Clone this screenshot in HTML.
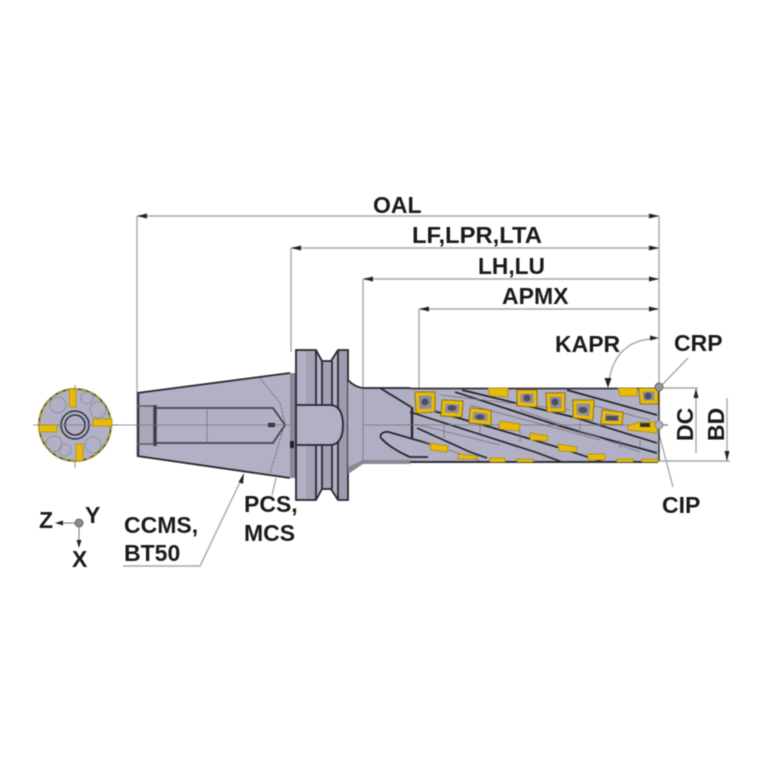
<!DOCTYPE html>
<html><head><meta charset="utf-8"><style>
html,body{margin:0;padding:0;background:#fff}
svg{display:block;filter:blur(.5px)}
text{font-family:"Liberation Sans",sans-serif;font-weight:bold;fill:#1a1a1a;font-size:23px}
.d{stroke:#a8a8a8;stroke-width:1.4;fill:none}
.k{stroke:#26262e;stroke-width:1.8;fill:none}
.h{stroke:#22222a;stroke-width:1.7;fill:none}
.t{stroke:#74747e;stroke-width:.8;fill:none}
.y{fill:#e8bb0a;stroke:#a88a10;stroke-width:.8}
</style></head><body>
<svg width="767" height="767" viewBox="0 0 767 767" xmlns="http://www.w3.org/2000/svg">
<defs>
<g id="ins">
<path d="M417 394H433V410L418 411Z"/>
<path d="M444 402L461 403L460 415L443 414Z"/>
<path d="M472 410L489 412L489 423L471 421Z"/>
<path d="M519 392H535V405L519 404Z"/>
<path d="M548 395H563V410L549 410Z"/>
<path d="M575 402H592L591 418L575 416Z"/>
<path d="M604 412L621 414L620 423L603 422Z"/>
<path d="M641 390H656V402L642 402Z"/>
</g>
</defs>

<!-- dimension lines -->
<path class="d" d="M137 216V393M137 216H659M291 248V352M291 248H659M363 279V388M363 279H659M419 309V390M419 309H659M659 216V388"/>
<path fill="#222" d="M137 216l10-2.500v5zM659 216l-10-2.500v5zM291 248l10-2.500v5zM659 248l-10-2.500v5zM363 279l10-2.500v5zM659 279l-10-2.500v5zM419 309l10-2.500v5zM659 309l-10-2.500v5zM659 338l-9-2.500v5z"/>
<path class="d" d="M650 339C630 341 614 352 609 380"/>
<path fill="#222" d="M608 388l-3.500-10h7z"/>
<path class="d" d="M659 388H698M659 461H730M696 397V453M727 398V461M661 425H668"/>
<path fill="#222" d="M696 388l-2.500 10h5zM727 461l-2.500-10h5z"/>
<path class="d" d="M661 386L688 358M658 430L673 487M123 566H200L242 478M276 478L272 495"/>
<path fill="#222" d="M244 473l-1 11-4.500-2zM658 442l-2 9h4z"/>

<!-- taper -->
<path d="M137 393L290 373V478L137 456Z" fill="#b2b0c4"/>
<rect x="137" y="405" width="16" height="40" fill="#a9a7ba"/>
<path d="M137 393L290 373M137 456L290 478" class="k"/>
<path d="M138 393V456" stroke="#33333c" stroke-width="2.500"/>
<path d="M137 406H153M137 444H153" stroke="#606069" stroke-width="1.500"/>
<path d="M155 405V446" stroke="#3e3e48" stroke-width="3.500" fill="none"/>
<path d="M156 408H273L285 425L273 443H156" stroke="#44444e" stroke-width="1.800" fill="none"/>
<path class="t" d="M207 408V443"/>
<path d="M260 378L280 403L285 423L277 450L270 473" fill="none" stroke="#606068" stroke-width=".7" stroke-dasharray="3 1"/>
<rect x="290" y="373" width="6" height="105" fill="#8a8898"/>
<path d="M268 423h7v4h-7zM290 441h4v7h-4z" fill="#222"/>

<!-- flange -->
<path d="M296 350H316L322 361H331L338 350H348V500H338L331 489H322L316 500H296Z" fill="#b2b0c4"/>
<path d="M306 351H316V499H306ZM322 361H331V489H322Z" fill="#a3a1b4"/>
<path d="M339 351H347V499H339Z" fill="#9d9bae"/>
<path class="k" d="M296 350H316L322 361H331L338 350H348V500H338L331 489H322L316 500H296Z"/>
<path class="h" d="M316 351V499M322 361V489M332 361V489M338 351V499"/>
<path d="M297 405H330C340 405 343 415 343 425C343 435 340 445 330 445H297Z" fill="#b2b0c4"/>
<path class="k" d="M297 405H330C340 405 343 415 343 425C343 435 340 445 330 445H297"/>

<!-- neck -->
<path d="M348 380C352 384 356 387 363 388H412V462H363C356 463 352 467 348 472Z" fill="#b0aec2"/>
<path d="M348 467L363 460H410V464H363L348 474Z" fill="#8a8894"/>
<path class="h" d="M348 380C352 384 356 387 363 388H410"/>
<path class="t" d="M363 388V462"/>

<!-- cutter body -->
<path d="M410 388H659V461H410Z" fill="#b2b0c4"/>
<path class="k" d="M380 388L411 407"/>
<path d="M412 407V440" stroke="#26262e" stroke-width="2.500"/>
<path class="h" d="M567 390L657 415M462 390L573 417L657 443M455 392L563 427L657 453M410 412L535 452L562 462M417 428L470 452L487 458M430 410L490 427L557 447L603 462"/>
<path d="M386 432C381 432 379 435 381 438C386 444 398 452 410 457H430C434 454 436 450 437 447L392 433Z" fill="#b2b0c4"/>
<path class="k" d="M437 446L392 433C384 430 379 434 381 438C386 444 398 452 410 457H428"/>
<path class="t" d="M415 424L500 445M470 405L600 440M440 395L570 410M520 410L640 452M420 440L480 461M572 400L650 420"/>
<path d="M410 462H658" stroke="#2c2c34" stroke-width="2"/>
<path d="M659 390V461" stroke="#3a3a44" stroke-width="1.500"/>
<path d="M410 388.500H658" stroke="#33333c" stroke-width="1.700"/>
<path class="t" d="M363 425H668"/>
<path class="t" d="M112 425H290"/>
<path class="t" d="M444 426v12M480 422v12M520 430v12M580 422v12M620 440v8M640 440v8"/>

<!-- inserts top rows -->
<use href="#ins" fill="#8e8d9c" stroke="#7f6c12" stroke-width="5"/>
<use href="#ins" fill="#8e8d9c" stroke="#e8bb0a" stroke-width="3.200"/>
<path class="y" d="M488 388H508V397L490 396Z"/>
<path class="y" d="M618 388H637V396H620Z"/>
<g fill="#4e4e5e">
<circle cx="425" cy="402" r="3.500"/><ellipse cx="452" cy="408" rx="4.500" ry="3"/><ellipse cx="480" cy="417" rx="4.500" ry="2.800"/><circle cx="527" cy="398" r="3.500"/><circle cx="555" cy="402" r="3.500"/><ellipse cx="583" cy="410" rx="4.500" ry="3"/><rect x="606" y="416" width="12" height="4.500"/><circle cx="648" cy="396" r="3.500"/>
</g>
<!-- lower inserts -->
<g>
<path class="y" d="M430 443L448 446L447 452L431 450Z"/>
<path class="y" d="M458 454L477 456V459L458 459Z"/>
<path class="y" d="M500 421L520 424L519 431L499 429Z"/>
<path class="y" d="M530 433L548 436L547 441L530 440Z"/>
<path class="y" d="M558 444L577 447L576 452L559 451Z"/>
<path class="y" d="M588 454H605V460H588Z"/>
<path class="y" d="M627 426L640 422H657V433L628 430Z"/>
<path class="y" d="M490 458H505V462H490Z"/>
<path class="y" d="M517 459H533V462H517Z"/>
<path class="y" d="M617 459H633V462H617Z"/>
<path class="y" d="M642 459H658V462H642Z"/>
<path d="M640 423h10v4h-10z" fill="#333"/>
</g>
<circle cx="659" cy="387" r="4" fill="#94949c" stroke="#666"/>
<circle cx="659" cy="425" r="4" fill="#b0aec2" stroke="#888"/>

<!-- end view -->
<path class="t" d="M75 385V468"/>
<circle cx="75" cy="425" r="36" fill="#b2b0c4" stroke="#3c3c3c" stroke-width="1.500"/>
<circle cx="75" cy="425" r="36" fill="none" stroke="#a89a20" stroke-width="2.200" stroke-dasharray="5 3"/>
<g fill="none" stroke="#8a8a9a" stroke-width=".8">
<circle cx="58" cy="405" r="8"/><circle cx="98" cy="410" r="8"/><circle cx="54" cy="444" r="8"/><circle cx="93" cy="445" r="8"/><circle cx="65" cy="450" r="6"/><circle cx="87" cy="398" r="6"/>
</g>
<g fill="none" stroke="#30303a" stroke-width="1.500">
<circle cx="75" cy="425" r="14"/><circle cx="75" cy="425" r="10"/>
</g>
<path class="t" d="M33 425H118"/>
<g fill="#e8bb0a" stroke="#a88a10" stroke-width=".7">
<rect x="69.500" y="389" width="6.500" height="18"/><rect x="76" y="444" width="7" height="17"/>
<rect x="39" y="425" width="18" height="7"/><rect x="93" y="419" width="19" height="7"/>
</g>

<!-- axes -->
<circle cx="79" cy="523" r="4" fill="#8a8a8a" stroke="#666"/>
<path d="M75 523H60M79 527V542" stroke="#777" stroke-width="1" fill="none"/>
<path fill="#222" d="M55 523l8-2.500v5zM79 548l-2.500-8h5z"/>
<text x="39" y="528">Z</text>
<text x="85" y="523">Y</text>
<text x="72" y="567">X</text>

<!-- labels -->
<text x="373" y="213">OAL</text>
<text x="412" y="243" textLength="130" lengthAdjust="spacingAndGlyphs">LF,LPR,LTA</text>
<text x="478" y="274" textLength="67" lengthAdjust="spacingAndGlyphs">LH,LU</text>
<text x="502" y="304">APMX</text>
<text x="555" y="352">KAPR</text>
<text x="674" y="351">CRP</text>
<text x="662" y="513">CIP</text>
<text x="124" y="533">CCMS,</text>
<text x="124" y="561">BT50</text>
<text x="244" y="512">PCS,</text>
<text x="244" y="541">MCS</text>
<text transform="translate(693 441) rotate(-90)">DC</text>
<text transform="translate(724 441) rotate(-90)">BD</text>
</svg>
</body></html>
